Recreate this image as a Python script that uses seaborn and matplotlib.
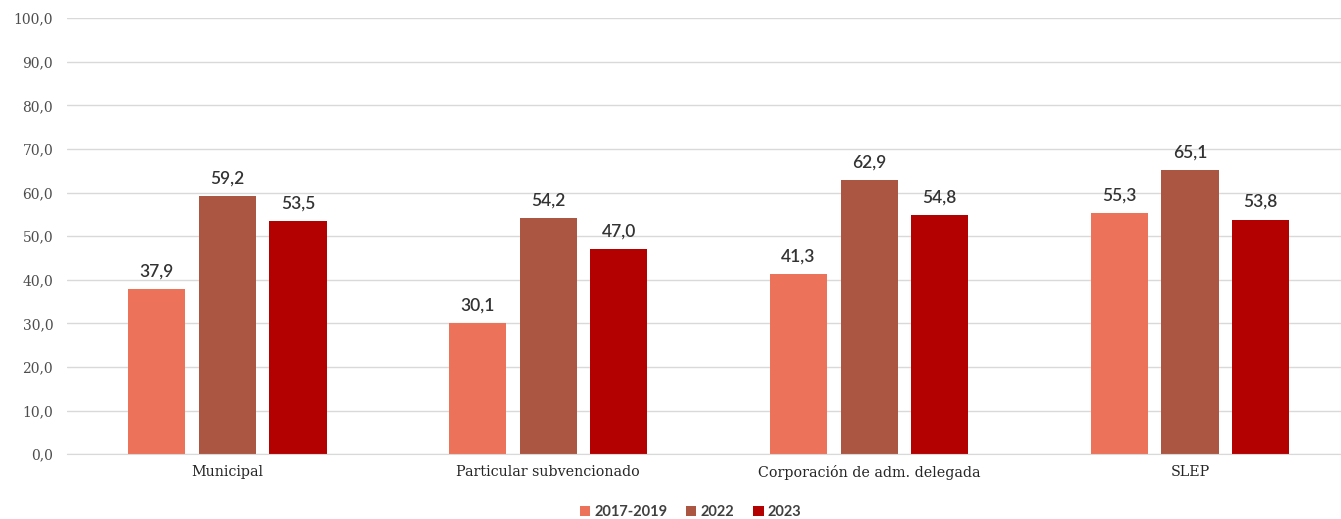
import numpy as np
import pandas as pd
import seaborn as sns
from matplotlib import pyplot as plt

categories = ["Municipal", "Particular subvencionado", "Corporación de adm. delegada", "SLEP"]
periods = ["2017-2019", "2022", "2023"]
v_2017_2019 = [37.9, 30.1, 41.3, 55.3]
v_2022 = [59.2, 54.2, 62.9, 65.1]
v_2023 = [53.5, 47.0, 54.8, 53.8]
colors = ["#EC735A", "#AB5642", "#B30000"]

df = pd.DataFrame({
    "cat": categories * 3,
    "periodo": np.repeat(periods, len(categories)),
    "valor": v_2017_2019 + v_2022 + v_2023,
})

sns.set_style("white")
plt.rcParams["font.family"] = ["DejaVu Serif"]

fig = plt.figure(figsize=(13.41, 5.19), dpi=100)
ax = fig.add_axes([0.05, 0.125, 0.957, 0.84])

sns.barplot(data=df, x="cat", y="valor", hue="periodo", palette=colors,
            width=0.66, gap=0.19, ax=ax, legend=True, saturation=1, linewidth=0)

for cont in ax.containers:
    labels = [f"{b.get_height():.1f}".replace(".", ",") for b in cont]
    ax.bar_label(cont, labels=labels, padding=7, fontsize=12.5, color="#333333",
                 family=["Lato", "DejaVu Sans"], fontweight="semibold")

ax.set_ylim(0, 100)
ax.set_yticks(np.arange(0, 101, 10))
ax.set_yticklabels([f"{t:.1f}".replace(".", ",") for t in np.arange(0, 101, 10)],
                   fontsize=10, color="#4d4d4d")
ax.tick_params(axis="x", labelsize=10.3, colors="#262626", length=0, pad=8)
ax.tick_params(axis="y", length=0, pad=10)
ax.grid(axis="y", color="#d9d9d9", linewidth=1)
ax.set_axisbelow(True)
for s in ["top", "right", "left"]:
    ax.spines[s].set_visible(False)
ax.spines["bottom"].set_color("#d9d9d9")
ax.set_xlabel("")
ax.set_ylabel("")

handles, labels = ax.get_legend_handles_labels()
ax.get_legend().remove()
leg = fig.legend(handles, labels, loc="center", bbox_to_anchor=(0.515, 0.014), ncol=3,
                 frameon=False, handlelength=0.7, handleheight=0.7, handletextpad=0.3,
                 columnspacing=1.3,
                 prop={"family": ["Lato", "DejaVu Sans"], "weight": "bold", "size": 10.5})
for t in leg.get_texts():
    t.set_color("#404040")

fig.savefig("out.png", dpi=100)
